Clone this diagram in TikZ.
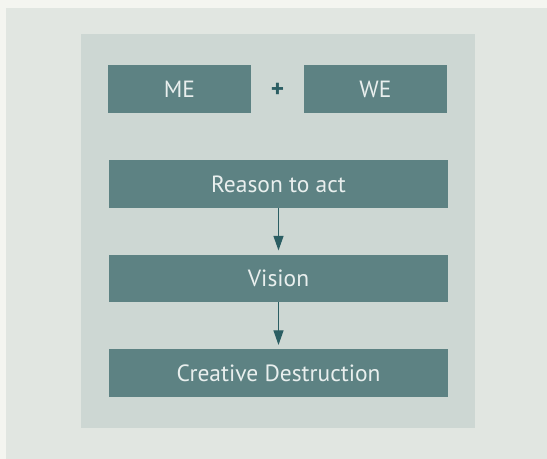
\documentclass[tikz,border=0pt]{standalone}
\usepackage{fontspec}
\setmainfont{PT Sans}
\usepackage{xcolor}
\usetikzlibrary{arrows.meta,positioning}
\definecolor{pagebg}{HTML}{F4F5F0}
\definecolor{outerbg}{HTML}{E1E6E1}
\definecolor{innerbg}{HTML}{CDD7D3}
\definecolor{boxteal}{HTML}{5D8283}
\definecolor{arrowteal}{HTML}{2B5E63}
\definecolor{boxtext}{HTML}{E9EFEE}

\begin{document}
\begin{tikzpicture}[x=0.75pt,y=-0.75pt,
  box/.style={fill=boxteal, text=boxtext, minimum height=35.6pt, inner sep=0pt, font=\fontsize{17.6}{20}\selectfont},
  flow/.style={-{Triangle[width=7.5pt,length=11pt]}, draw=arrowteal, fill=arrowteal, line width=0.9pt, shorten >=3pt}]
\useasboundingbox (0,0) rectangle (547,459);
% panels
\fill[pagebg] (0,0) rectangle (547,459);
\fill[outerbg] (6,8) rectangle (547,459);
\fill[innerbg] (81,34) rectangle (475,428);
% top row
\node[box, minimum width=107.25pt] (me) at (179.5,89) {ME};
\node[box, minimum width=107.25pt] (we) at (375.5,89) {WE};
\node[text=arrowteal, font=\fontsize{19}{22}\selectfont\bfseries] (plus) at (277.5,90) {+};
% chain
\node[box, minimum width=254.25pt] (reason) at (278.5,184) {Reason to act};
\node[box, minimum width=254.25pt] (vision) at (278.5,278.5) {Vision};
\node[box, minimum width=254.25pt] (destr) at (278.5,373) {Creative Destruction};
\draw[flow] (reason) -- (vision);
\draw[flow] (vision) -- (destr);
\end{tikzpicture}
\end{document}
